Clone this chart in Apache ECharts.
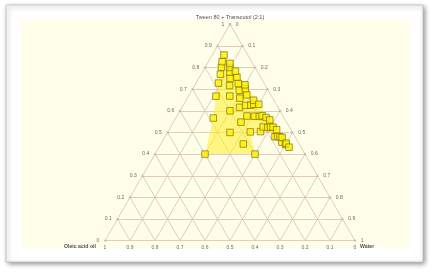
<!DOCTYPE html>
<html><head><meta charset="utf-8">
<script src="https://cdn.jsdelivr.net/npm/echarts@6/dist/echarts.min.js"></script>
<style>html,body{margin:0;padding:0;background:#fff;}#c{width:432px;height:272px;}</style>
</head><body><div id="c"></div>
<script>
// ---- text ----
const titleText = 'Tween 80 + Transcutol (2:1)';
const oilName = 'Oleic acid oil';
const waterName = 'Water';
// ---- ticks (fractions) ----
const tickValues = [0, 0.1, 0.2, 0.3, 0.4, 0.5, 0.6, 0.7, 0.8, 0.9, 1];
const tickLabels = ['0', '0.1', '0.2', '0.3', '0.4', '0.5', '0.6', '0.7', '0.8', '0.9', '1'];
// ---- data: Smix:oil ratio lines and water fraction of each titration point ----
const smixOilRatios = [1, 2, 3, 4, 5, 6, 7, 8, 9];
const waterSmix1 = [0.20];
const waterSmix2 = [0.15, 0.25, 0.33, 0.40];
const waterSmix3 = [0.11, 0.20, 0.27, 0.33];
const waterSmix4 = [0.09, 0.165, 0.23, 0.28, 0.37];
const waterSmix5 = [0.077, 0.14, 0.21, 0.25, 0.31, 0.37];
const waterSmix6 = [0.065, 0.125, 0.19, 0.27, 0.33, 0.39, 0.44];
const waterSmix7 = [0.055, 0.11, 0.17, 0.23, 0.28, 0.34, 0.40, 0.45, 0.48];
const waterSmix8 = [0.10, 0.15, 0.21, 0.27, 0.36, 0.41, 0.46, 0.50];
const waterSmix9 = [0.047, 0.09, 0.13, 0.20, 0.30, 0.38, 0.43, 0.47, 0.50, 0.52];
const waterLists = [waterSmix1, waterSmix2, waterSmix3, waterSmix4, waterSmix5, waterSmix6, waterSmix7, waterSmix8, waterSmix9];

// ternary (oil, smix, water) -> cartesian value space of the grid
function tern(o, s, w) { return [w + s / 2, s]; }
function comp(r, w) { const o = (1 - w) / (1 + r); const s = (1 - w) * r / (1 + r); return [o, s, w]; }

const points = [];
waterLists.forEach((ws, i) => ws.forEach(w => { const c = comp(smixOilRatios[i], w); points.push(tern(c[0], c[1], c[2])); }));

// region boundary: first point of each line (top to bottom), then last point of each line
const boundary = [];
for (let i = waterLists.length - 1; i >= 0; i--) { const c = comp(smixOilRatios[i], waterLists[i][0]); boundary.push(tern(...c)); }
for (let i = 0; i < waterLists.length; i++) { const ws = waterLists[i]; const c = comp(smixOilRatios[i], ws[ws.length - 1]); boundary.push(tern(...c)); }

// grid lines
const gridLines = [];
tickValues.forEach(t => {
  if (t === 0 || t === 1) return;
  gridLines.push({ coords: [[t / 2, t], [1 - t / 2, t]] });            // constant smix
  gridLines.push({ coords: [[t, 0], [t + (1 - t) / 2, 1 - t]] });      // constant water
  gridLines.push({ coords: [[1 - t, 0], [(1 - t) / 2, 1 - t]] });      // constant oil
});
gridLines.push({ coords: [[0, 0], [1, 0]] }, { coords: [[0, 0], [0.5, 1]] }, { coords: [[1, 0], [0.5, 1]] });

const lblFont = { fontSize: 5, color: '#444', fontFamily: 'Liberation Sans' };
const leftLabels = tickValues.map((t, i) => ({ value: [t / 2, t], label: { formatter: tickLabels[i] } }));
const rightLabels = tickValues.map((t, i) => ({ value: [1 - t / 2, t], label: { formatter: tickLabels[10 - i] } }));
const bottomLabels = tickValues.map((t, i) => ({ value: [t, 0], label: { formatter: tickLabels[10 - i] } }));
const crossPath = 'path://M0,0L10,10M10,0L0,10';

const chart = echarts.init(document.getElementById('c'), null, { renderer: 'canvas' });
chart.setOption({
  animation: false,
  graphic: [
    { type: 'rect', z: -20, shape: { x: 6, y: 5, width: 417, height: 257 }, style: { fill: '#fff', stroke: '#bbb', lineWidth: 0.8, shadowBlur: 5, shadowColor: 'rgba(0,0,0,0.45)', shadowOffsetX: 1.5, shadowOffsetY: 1.5 } },
    { type: 'rect', z: -19, shape: { x: 21, y: 19, width: 388, height: 229 }, style: { fill: '#fffee9' } }
  ],
  grid: { left: 105, top: 24.2, width: 250, height: 216.5 },
  xAxis: { type: 'value', min: 0, max: 1, show: false },
  yAxis: { type: 'value', min: 0, max: 1, show: false },
  series: [
    { type: 'lines', coordinateSystem: 'cartesian2d', z: 1, silent: true, lineStyle: { color: '#d8c2ad', width: 0.8, opacity: 1 }, data: gridLines },
    { type: 'custom', z: 2, silent: true, data: [0], renderItem: function (params, api) {
        const pts = boundary.map(p => api.coord(p));
        return { type: 'polygon', shape: { points: pts }, style: { fill: 'rgba(255,238,40,0.55)' } };
      } },
    { type: 'scatter', z: 5, symbol: 'rect', symbolSize: 6.5, data: points, itemStyle: { color: '#fff200', borderColor: '#857300', borderWidth: 0.9 } },
    { type: 'scatter', z: 3, symbol: crossPath, symbolSize: 2.5, itemStyle: { color: 'none', borderColor: '#999', borderWidth: 0.6 }, data: leftLabels, label: Object.assign({ show: true, position: 'left', distance: 2 }, lblFont) },
    { type: 'scatter', z: 3, symbol: crossPath, symbolSize: 2.5, itemStyle: { color: 'none', borderColor: '#999', borderWidth: 0.6 }, data: rightLabels, label: Object.assign({ show: true, position: 'right', distance: 2 }, lblFont) },
    { type: 'scatter', z: 3, symbol: 'circle', symbolSize: 0.1, data: bottomLabels, label: Object.assign({ show: true, position: 'bottom', distance: 4 }, lblFont) },
    { type: 'scatter', z: 3, symbol: 'circle', symbolSize: 0.1, data: [
        { value: [0.5, 1], label: { formatter: titleText, position: 'top', distance: 4, fontSize: 5.5, color: '#222' } },
        { value: [0, 0], label: { formatter: oilName, position: 'left', offset: [-4, 5.5], fontSize: 5.2, fontWeight: 'bold', color: '#222' } },
        { value: [1, 0], label: { formatter: waterName, position: 'right', offset: [0, 5.5], fontSize: 5.2, fontWeight: 'bold', color: '#222' } }
      ], label: { show: true, fontFamily: 'Liberation Sans' } }
  ]
});
</script></body></html>
